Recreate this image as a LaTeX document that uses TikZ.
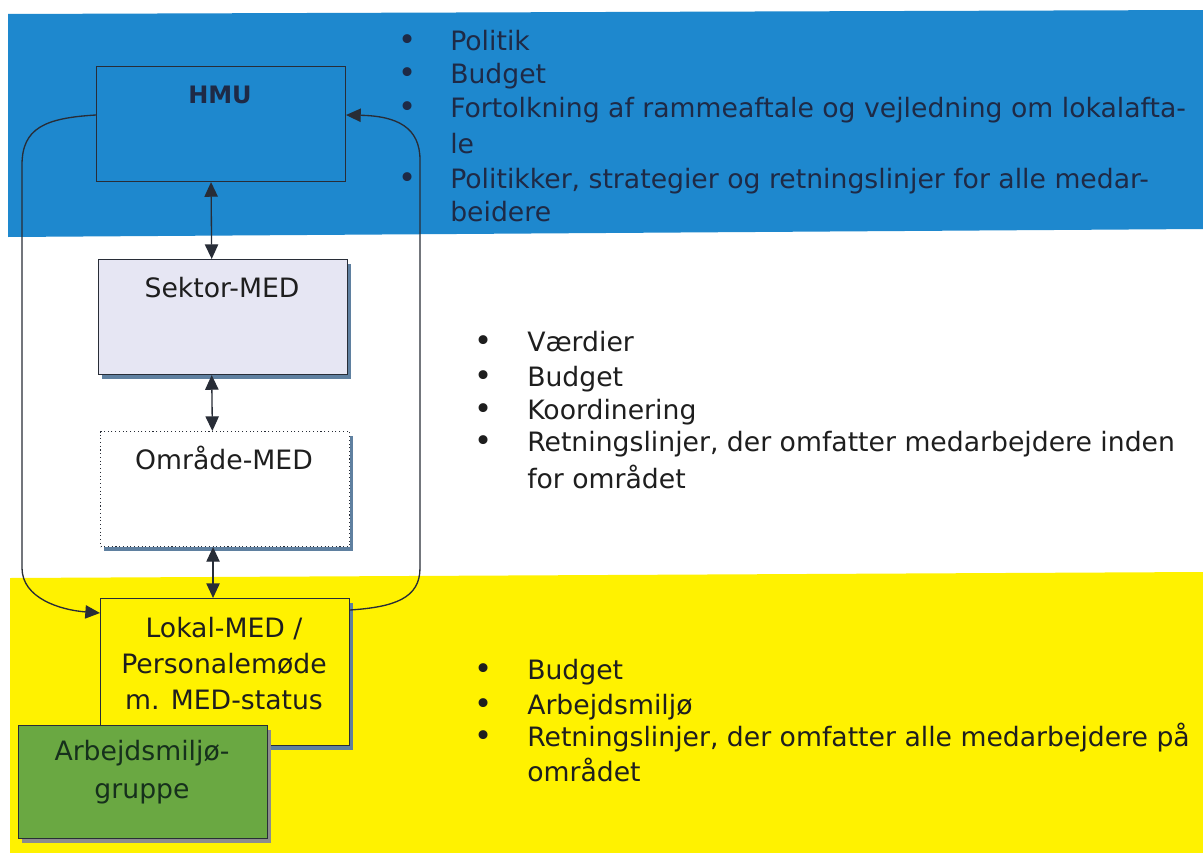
\documentclass[tikz,border=0pt]{standalone}
\usepackage{fontspec}
\setmainfont{DejaVu Sans}
\usetikzlibrary{arrows.meta,calc,shadows}
\definecolor{bandblue}{RGB}{30,136,206}
\definecolor{bandyellow}{RGB}{255,242,0}
\definecolor{sektorfill}{RGB}{230,230,243}
\definecolor{greenfill}{RGB}{106,168,66}
\definecolor{shadowc}{RGB}{95,128,160}
\definecolor{linec}{RGB}{40,45,55}
\definecolor{bluetext}{RGB}{30,42,70}
\definecolor{greentext}{RGB}{22,48,28}
\definecolor{bodytext}{RGB}{30,30,30}
\begin{document}
\begin{tikzpicture}[x=0.75pt,y=-0.75pt,
  box/.style={draw=linec, line width=0.8pt, minimum width=186.75pt, minimum height=86.25pt, inner sep=0pt, anchor=north west},
  shad/.style={drop shadow={shadow xshift=2.5pt, shadow yshift=-3pt, fill=shadowc, opacity=1}},
  boxlbl/.style={font=\fontsize{20}{24}\selectfont, text=bodytext, anchor=base},
  itemtxt/.style={font=\fontsize{20}{24}\selectfont, text=bodytext, anchor=base west, inner sep=0pt},
  bul/.style={font=\fontsize{23}{24}\selectfont, text=bodytext, anchor=base, inner sep=0pt},
  dbl/.style={draw=linec, line width=1pt, {Triangle[length=11pt,width=10pt]}-{Triangle[length=11pt,width=10pt]}},
  loop/.style={draw=linec, line width=1pt, -{Triangle[length=11pt,width=10pt]}}]
\useasboundingbox (0,0) rectangle (1203,853);
\fill[white] (0,0) rectangle (1203,853);
% bands
\fill[bandblue] (8,14) -- (1203,10) -- (1203,229) -- (8,237) -- cycle;
\fill[bandyellow] (10,578) -- (1203,572) -- (1203,853) -- (10,853) -- cycle;

% boxes
\node[box] (hmu) at (96,66) {};
\node[font=\bfseries\fontsize{18}{20}\selectfont, text=bluetext, anchor=base] at (220,103) {HMU};

\node[box, shad, fill=sektorfill] (sektor) at (98,259) {};
\node[boxlbl] at (222,297) {Sektor-MED};

\node[box, shad, fill=white, dotted, draw=linec] (omraade) at (100,431) {};
\node[boxlbl] at (224,469) {Område-MED};

\node[box, shad, fill=bandyellow, minimum height=110.25pt, draw=linec] (lokal) at (100,598) {};
\node[boxlbl] at (224,637) {Lokal-MED /};
\node[boxlbl] at (224,673) {Personalemøde};
\node[boxlbl] at (224,709) {m. MED-status};

\node[box, fill=greenfill, minimum height=84.75pt, draw=linec, drop shadow={shadow xshift=2.5pt, shadow yshift=-3pt, fill=black!45, opacity=1}] (amg) at (18,725) {};
\node[boxlbl, text=greentext] at (142,760) {Arbejdsmiljø-};
\node[boxlbl, text=greentext] at (142,798) {gruppe};

% vertical arrows
\draw[dbl] ([xshift=-7.5pt]hmu.south) -- ([xshift=-8.5pt]sektor.north);
\draw[dbl] ([xshift=-8.5pt]sektor.south) -- ([xshift=-9.5pt]omraade.north);
\draw[dbl] ([xshift=-9pt]omraade.south) -- ([xshift=-9pt]lokal.north);

% loop
\draw[loop] ($(hmu.north west)+(0,49)$) .. controls (45,118) and (22,128) .. (22,165)
  -- (22,568) .. controls (22,598) and (60,610) .. ($(lokal.north west)+(0,15)$);
\draw[loop] ($(lokal.north east)+(0,12)$) .. controls (395,607) and (420,598) .. (420,568)
  -- (420,160) .. controls (420,128) and (398,116) .. ($(hmu.north east)+(0,49)$);

% blue items
\foreach \y/\t in {50/Politik, 83/Budget, 117/{Fortolkning af rammeaftale og vejledning om lokalafta-}, 188/{Politikker, strategier og retningslinjer for alle medar-}}{
  \node[bul, text=bluetext] at (408,\y) {•};
  \node[itemtxt, text=bluetext] at (450,\y) {\t};
}
\node[itemtxt, text=bluetext] at (450,153) {le};
\node[itemtxt, text=bluetext] at (450,221) {beidere};

% white items
\foreach \y/\t in {351/Værdier, 386/Budget, 419/Koordinering, 451/{Retningslinjer, der omfatter medarbejdere inden}}{
  \node[bul] at (484,\y) {•};
  \node[itemtxt] at (527,\y) {\t};
}
\node[itemtxt] at (527,488) {for området};

% yellow items
\foreach \y/\t in {679/Budget, 714/Arbejdsmiljø, 746/{Retningslinjer, der omfatter alle medarbejdere på}}{
  \node[bul] at (484,\y) {•};
  \node[itemtxt] at (527,\y) {\t};
}
\node[itemtxt] at (527,781) {området};
\end{tikzpicture}
\end{document}
